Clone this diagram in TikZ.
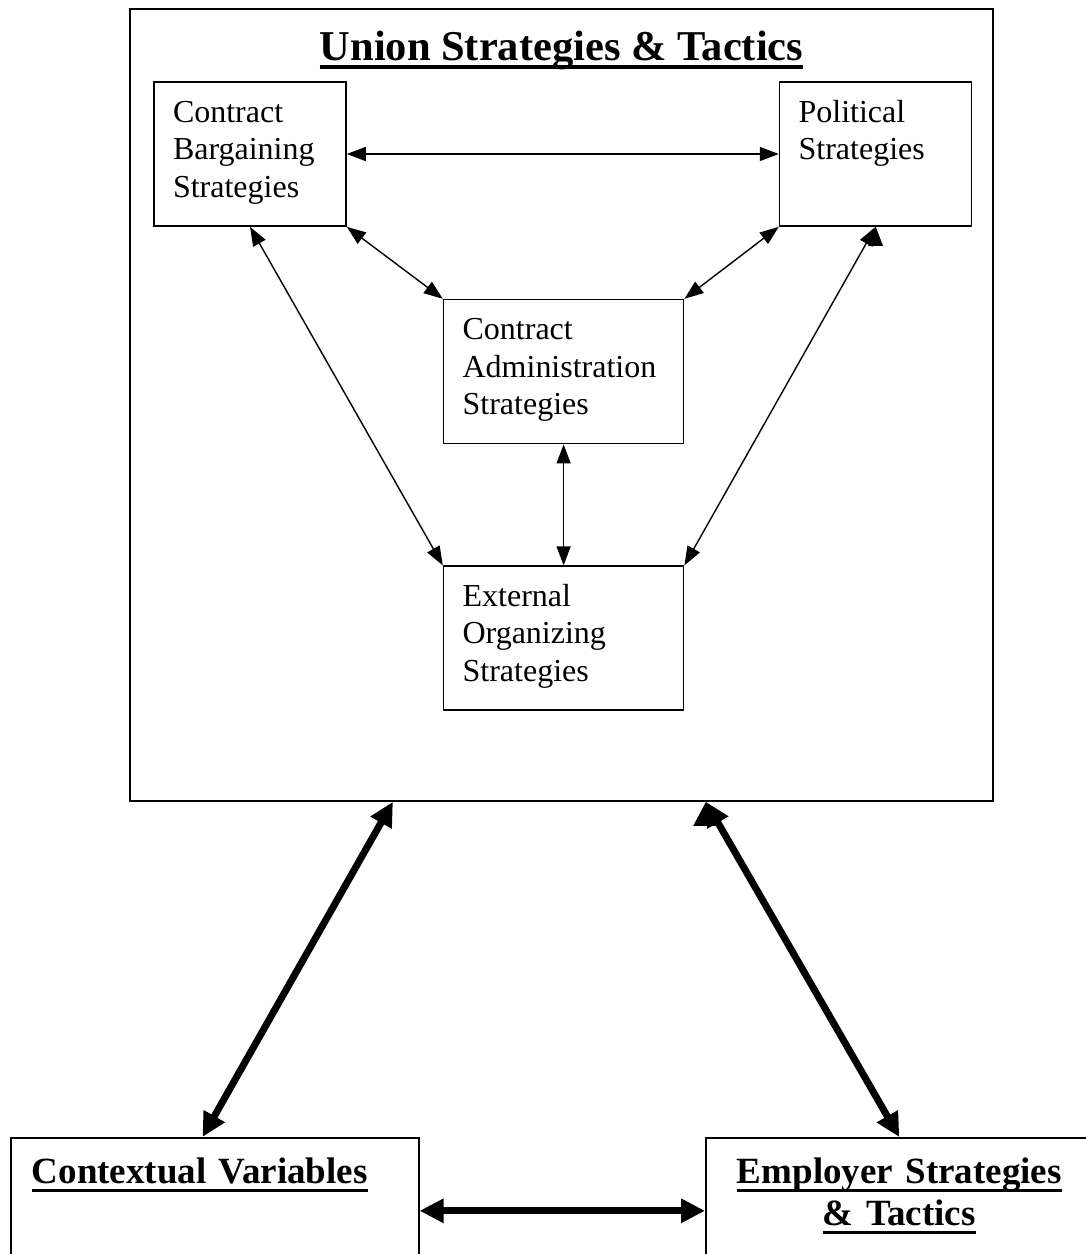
\documentclass[tikz,border=0pt]{standalone}
\usepackage{fontspec}
\setmainfont{Liberation Serif}
\usetikzlibrary{arrows.meta, positioning, calc}

\newsavebox\ulbox
\newcommand\understrek[1]{\leavevmode\sbox\ulbox{#1}\rlap{\rule[-8.5pt]{\wd\ulbox}{3.5pt}}\usebox\ulbox}

\begin{document}
\begin{tikzpicture}[
        x=1pt, y=-1pt,
        ramme/.style = {rectangle, draw, line width=1.6pt, inner sep=0pt},
        punkt/.style = {rectangle, draw, line width=1.6pt, align=left,
            inner xsep=19pt, inner ysep=16pt, text height=24pt, text depth=88pt,
            font=\fontsize{32}{37.5}\selectfont},
        sokkel/.style = {rectangle, draw, line width=1.6pt, anchor=north west,
            inner xsep=21pt, inner ysep=10pt, text height=36pt, text depth=90pt,
            font=\fontsize{37}{42}\selectfont\bfseries},
        pil/.style = {line width=1.4pt,
            {Triangle[length=19pt,width=14pt]}-{Triangle[length=19pt,width=14pt]}},
        tykkpil/.style = {line width=7pt,
            {Triangle[length=24pt,width=23pt]}-{Triangle[length=24pt,width=23pt]}}
        ]

        \useasboundingbox (0,0) rectangle (1086,1254);
        \clip (0,0) rectangle (1086,1254);

        % union block with the four strategies
        \node[ramme, minimum width=863pt, minimum height=792pt] (union) at (561.5,405) {};
        \node[anchor=base, font=\fontsize{42.5}{50}\selectfont\bfseries] (tittel) at (561.5,60)
            {\understrek{Union Strategies \& Tactics}};

        \node[punkt, text width=154pt] (CB) [below right=73pt and 24pt of union.north west] {Contract\\Bargaining\\Strategies};
        \node[punkt, text width=154pt] (PS) [right=432pt of CB] {Political\\Strategies};
        \node[punkt, text width=202pt] (CA) [below right=72pt and 96pt of CB.south east] {Contract\\Administration\\Strategies};
        \node[punkt, text width=202pt] (EO) [below=121pt of CA] {External\\Organizing\\Strategies};

        % the two outside blocks
        \node[sokkel, text width=366pt, align=left] (CV) at (10,1137) {\understrek{Contextual Variables}};
        \node[sokkel, text width=345pt, align=center] (ER) at (705,1137) {\understrek{Employer Strategies}\\\understrek{\& Tactics}};

        \coordinate (uV) at ($(union.south west)!0.305!(union.south east)$);
        \coordinate (uH) at ($(union.south west)!0.667!(union.south east)$);
        \coordinate (cvT) at ($(CV.north west)!0.47!(CV.north east)$);

        \draw[pil] (CB) edge (PS)
        (CB.south east) edge (CA.north west)
        (PS.south west) edge (CA.north east)
        (CA) edge (EO)
        (CB.south) edge (EO.north west)
        (PS.south) edge (EO.north east);

        \draw[tykkpil] (uV) edge (cvT)
        (uH) edge (ER.north)
        (CV) edge (ER);

      \end{tikzpicture}
\end{document}
